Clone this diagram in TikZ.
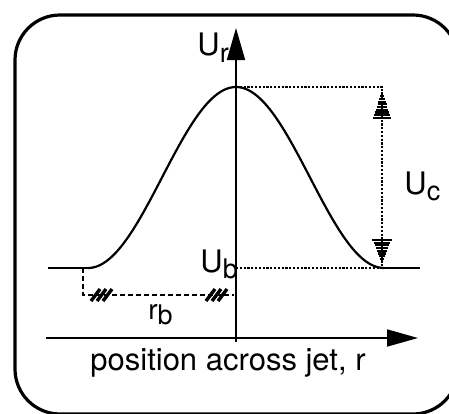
\documentclass[tikz,border=0pt]{standalone}
\usepackage{fontspec}
\setmainfont{TeX Gyre Heros}
\usetikzlibrary{arrows.meta}
\newcommand\lowsub[2]{\raisebox{-#1}{\fontsize{13.5}{14}\selectfont #2}}
\begin{document}
\begin{tikzpicture}[x=0.5pt,y=-0.5pt,
  lbl/.style={inner sep=0pt,anchor=base west,font=\fontsize{15.5}{18}\selectfont},
  axis/.style={line width=0.85pt},
  dotline/.style={line width=1.3pt,dash pattern=on 1.1pt off 0.8pt},
  dashline/.style={line width=1.4pt,dash pattern=on 2.5pt off 1.5pt},
  hatch/.style={line width=1.7pt},
  curve/.style={line width=1.1pt},
  stripe/.style={line width=1.1pt}]
\useasboundingbox (0,0) rectangle (449,413);
\begin{scope}
\clip (0,0) rectangle (449,413);
\draw[line width=1.6pt, rounded corners=22.5pt] (15,15) rectangle (458,414);
\end{scope}
% axes
\coordinate (xl) at (46,338);
\coordinate (xr) at (418,338);
\coordinate (yb) at (236,342);
\coordinate (yt) at (236,28);
\draw[axis,-{Triangle[length=15.5pt,width=8.5pt]}] (xl) -- (xr);
\draw[axis,-{Triangle[length=16pt,width=9pt]}] (yb) -- (yt);
% profile
\coordinate (peak) at (236,87);
\coordinate (lf) at (88,268);
\coordinate (rf) at (384,268);
\draw[curve] plot[domain=-148:148, samples=120] ({236+\x},{268-90.5*(1+cos(\x/148*180))});
% baseline
\coordinate (bl) at (48,268);
\coordinate (br) at (420,268);
\coordinate (ub) at (236,268);
\coordinate (ct) at (382,87);
\coordinate (cb) at (382,268);
\draw[line width=0.7pt] (bl) -- (lf);
\draw[line width=0.7pt] (cb) -- (br);
\draw[dotline] (ub) -- (cb);
\draw[dotline] (peak) -- (ct) -- (cb);
% striped arrow heads
\foreach \k in {0,...,9} {
  \pgfmathsetmacro\yy{93.5+2.7*\k}
  \pgfmathsetmacro\hw{9.5*(\yy-92)/26}
  \draw[stripe] (382-\hw,\yy) -- (382+\hw,\yy);
  \pgfmathsetmacro\yl{261.5-2.7*\k}
  \pgfmathsetmacro\hl{9.5*(263-\yl)/23}
  \ifnum\k<9 \draw[stripe] (382-\hl,\yl) -- (382+\hl,\yl);\fi
}
% r_b bracket
\coordinate (rb1) at (83,268);
\coordinate (rb2) at (83,295);
\coordinate (rb3) at (234,295);
\draw[dashline] (rb1) -- (rb2) -- (rb3);
\foreach \x in {91,97,103} \draw[hatch] (\x,301) -- (\x+9,289);
\foreach \x in {206,212,218} \draw[hatch] (\x,301) -- (\x+9,289);
% labels
\node[lbl] (Ur) at (197,55) {U\lowsub{3.5pt}{r}};
\node[lbl] (Ub) at (200,272) {U\lowsub{3pt}{b}};
\node[lbl] (Uc) at (404,194) {U\lowsub{3pt}{c}};
\node[lbl] (rb) at (148,319) {\fontsize{14}{14}\selectfont r\lowsub{2.5pt}{b}};
\node[lbl] (xlab) at (90,370) {position across jet, r};
\end{tikzpicture}
\end{document}
